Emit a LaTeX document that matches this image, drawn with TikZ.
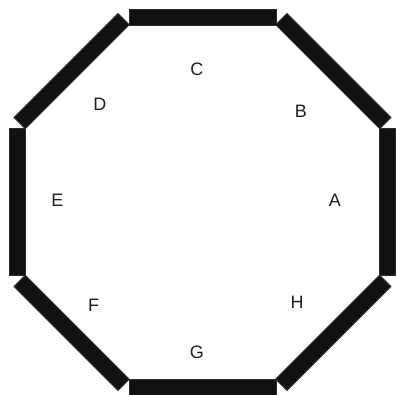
\documentclass[tikz,border=0pt]{standalone}
\usepackage{fontspec}
\setmainfont{Liberation Sans}
\definecolor{barfill}{RGB}{17,17,17}
\definecolor{bardraw}{RGB}{45,45,45}
\definecolor{labelcol}{RGB}{30,30,30}
\begin{document}
\begin{tikzpicture}[x=1pt,y=1pt,
  bar/.style={rectangle,fill=barfill,draw=bardraw,line width=0.8pt,minimum width=147pt,minimum height=16pt,inner sep=0pt},
  lbl/.style={font=\fontsize{18}{20}\selectfont,text=labelcol,inner sep=0pt}]
\useasboundingbox (-202.5,-193) rectangle (193.5,202);
\coordinate (O) at (0,0);
% eight bars of the octagon, counter-clockwise from the right side
\foreach \n [count=\k from 0] in {A,B,C,D,E,F,G,H}{
  \pgfmathsetmacro{\ang}{\k*45}
  \node[bar,rotate=\ang+90] (bar\n) at (\ang:185) {};
}
% labels
\node[lbl] (lA) at (132.5,1.5) {A};
\node[lbl] (lB) at (98.5,91) {B};
\node[lbl] (lC) at (-5.5,133) {C};
\node[lbl] (lD) at (-102.5,97.5) {D};
\node[lbl] (lE) at (-145,2) {E};
\node[lbl] (lF) at (-109,-103.5) {F};
\node[lbl] (lG) at (-5.5,-150) {G};
\node[lbl] (lH) at (94.5,-100) {H};
\end{tikzpicture}
\end{document}
